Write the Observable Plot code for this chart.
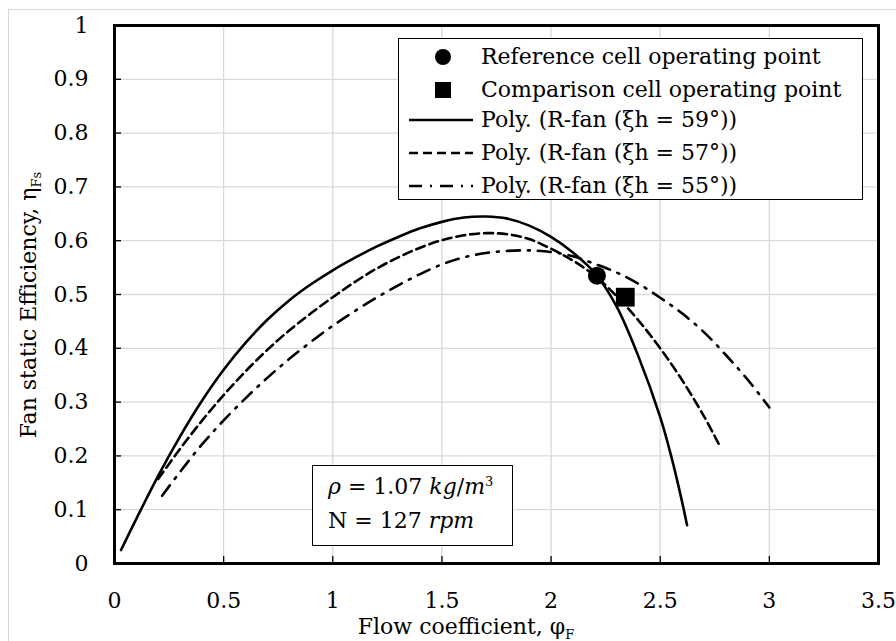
<!DOCTYPE html>
<html>
<head>
<meta charset="utf-8">
<script src="https://cdn.jsdelivr.net/npm/d3@7"></script>
<script src="https://cdn.jsdelivr.net/npm/@observablehq/plot@0.6"></script>
<style>
  body { margin: 0; background: #fff; }
  #wrap { position: relative; width: 896px; height: 641px; overflow: hidden; font-family: "DejaVu Serif", serif; }
  #border { position: absolute; left: 8px; top: 9px; width: 900px; height: 700px; border: 1px solid #d9d9d9; box-sizing: border-box; pointer-events: none; }
  .box { position: absolute; background: #fff; border: 1.6px solid #000; box-sizing: border-box; }
  #legend { left: 398px; top: 38px; width: 465px; height: 162px; }
  .row { position: absolute; left: 0; height: 33px; width: 100%; }
  .row svg { position: absolute; left: 8px; top: 0; }
  .row span { position: absolute; left: 82px; top: 2px; font-size: 22px; line-height: 30px; white-space: nowrap; }
  #note { left: 312px; top: 465px; width: 201px; height: 81px; }
  #note div { position: absolute; left: 15px; font-size: 22px; white-space: nowrap; }
</style>
</head>
<body>
<div id="wrap">
  <div id="chart"></div>
  <div id="border"></div>
</div>
<script>
// ---- data ----
const xTicks = [0, 0.5, 1, 1.5, 2, 2.5, 3, 3.5];
const yTicks = [0, 0.1, 0.2, 0.3, 0.4, 0.5, 0.6, 0.7, 0.8, 0.9, 1];

// Poly. (R-fan (ξh = 59°)) — solid
const phi59 = [0.03, 0.1, 0.2, 0.3, 0.4, 0.5, 0.6, 0.7, 0.8, 0.9, 1.0, 1.1, 1.2, 1.3, 1.4, 1.5, 1.6, 1.7, 1.8, 1.9, 2.0, 2.1, 2.2, 2.3, 2.4, 2.5, 2.55, 2.6, 2.623];
const eta59 = [0.025, 0.083, 0.163, 0.236, 0.302, 0.36, 0.41, 0.453, 0.489, 0.519, 0.545, 0.568, 0.589, 0.607, 0.623, 0.635, 0.643, 0.645, 0.641, 0.628, 0.607, 0.578, 0.54, 0.478, 0.385, 0.272, 0.2, 0.115, 0.071];

// Poly. (R-fan (ξh = 57°)) — dashed
const phi57 = [0.2, 0.3, 0.4, 0.5, 0.6, 0.7, 0.8, 0.9, 1.0, 1.1, 1.2, 1.3, 1.4, 1.5, 1.6, 1.7, 1.8, 1.9, 2.0, 2.1, 2.2, 2.3, 2.4, 2.5, 2.6, 2.7, 2.776];
const eta57 = [0.157, 0.213, 0.265, 0.313, 0.357, 0.397, 0.433, 0.465, 0.495, 0.523, 0.548, 0.569, 0.587, 0.601, 0.61, 0.614, 0.612, 0.603, 0.585, 0.563, 0.535, 0.497, 0.452, 0.4, 0.341, 0.274, 0.216];

// Poly. (R-fan (ξh = 55°)) — dash-dot
const phi55 = [0.218, 0.3, 0.4, 0.5, 0.6, 0.7, 0.8, 0.9, 1.0, 1.1, 1.2, 1.3, 1.4, 1.5, 1.6, 1.7, 1.8, 1.9, 2.0, 2.1, 2.2, 2.3, 2.4, 2.5, 2.6, 2.7, 2.8, 2.9, 3.0];
const eta55 = [0.126, 0.17, 0.221, 0.266, 0.307, 0.345, 0.38, 0.412, 0.442, 0.469, 0.494, 0.517, 0.538, 0.556, 0.569, 0.577, 0.581, 0.582, 0.579, 0.571, 0.557, 0.541, 0.52, 0.494, 0.465, 0.43, 0.388, 0.342, 0.29];

const refPhi = [2.21], refEta = [0.535];
const cmpPhi = [2.34], cmpEta = [0.495];

const seriesNames = ["Poly. (R-fan (ξh = 59°))", "Poly. (R-fan (ξh = 57°))", "Poly. (R-fan (ξh = 55°))"];
const markerNames = ["Reference cell operating point", "Comparison cell operating point"];
const dashes = [null, "9,5", "13,8,2,8"];

// ---- build tables ----
const toRows = (xs, ys) => xs.map((x, i) => ({x, y: ys[i]}));
const curves = [toRows(phi59, eta59), toRows(phi57, eta57), toRows(phi55, eta55)];

const W = 896, H = 641, ML = 114, MR = 18, MT = 25, MB = 78;
const TICK = 7;

const plot = Plot.plot({
  width: W,
  height: H,
  marginLeft: ML,
  marginRight: MR,
  marginTop: MT,
  marginBottom: MB,
  style: {fontFamily: "DejaVu Serif, serif", fontSize: "22px", background: "transparent", color: "#000"},
  x: {domain: [0, 3.5], ticks: xTicks, label: null},
  y: {domain: [0, 1], ticks: yTicks, label: null},
  marks: [
    Plot.ruleX(xTicks, {x: d => d, stroke: "#d9d9d9", strokeWidth: 1.3}),
    Plot.ruleY(yTicks, {y: d => d, stroke: "#d9d9d9", strokeWidth: 1.3}),
    Plot.tickX(xTicks, {x: d => d, stroke: "#000", strokeWidth: 1.3, insetTop: H - MT - MB - TICK}),
    Plot.tickY(yTicks, {y: d => d, stroke: "#000", strokeWidth: 1.3, insetRight: W - ML - MR - TICK}),
    Plot.axisX(xTicks, {tickSize: 0, tickPadding: 29, tickFormat: d => String(d)}),
    Plot.axisY(yTicks, {tickSize: 0, tickPadding: 26, tickFormat: d => String(d)}),
    ...curves.map((c, i) => Plot.line(c, {x: "x", y: "y", curve: "catmull-rom", stroke: "#000", strokeWidth: 2.6, strokeDasharray: dashes[i]})),
    Plot.dot(toRows(refPhi, refEta), {x: "x", y: "y", r: 9, fill: "#000", symbol: "circle"}),
    Plot.dot(toRows(cmpPhi, cmpEta), {x: "x", y: "y", r: 10.6, fill: "#000", symbol: "square"}),
    Plot.frame({stroke: "#000", strokeWidth: 3})
  ]
});

const svg = d3.select(plot);
// axis titles with subscripts
const xl = svg.append("text").attr("x", 466).attr("y", 634).attr("text-anchor", "middle")
  .attr("font-size", 22).attr("fill", "#000");
xl.append("tspan").text("Flow coefficient, φ");
xl.append("tspan").attr("font-size", 13).attr("dy", 5).text("F");

const yl = svg.append("text").attr("transform", "translate(36,305) rotate(-90)").attr("text-anchor", "middle")
  .attr("font-size", 22).attr("fill", "#000");
yl.append("tspan").text("Fan static Efficiency, η");
yl.append("tspan").attr("font-size", 13).attr("dy", 5).text("Fs");

document.getElementById("chart").appendChild(plot);

// ---- legend ----
const wrap = document.getElementById("wrap");
const legend = document.createElement("div");
legend.className = "box"; legend.id = "legend";
const rowTops = [1, 34, 64, 97, 130];
const NS = "http://www.w3.org/2000/svg";
function addRow(i, label, draw) {
  const row = document.createElement("div");
  row.className = "row"; row.style.top = rowTops[i] + "px";
  const s = document.createElementNS(NS, "svg");
  s.setAttribute("width", 70); s.setAttribute("height", 33);
  draw(s);
  row.appendChild(s);
  const t = document.createElement("span"); t.textContent = label;
  row.appendChild(t);
  legend.appendChild(row);
}
addRow(0, markerNames[0], s => { const c = document.createElementNS(NS, "circle"); c.setAttribute("cx", 36); c.setAttribute("cy", 17); c.setAttribute("r", 8); s.appendChild(c); });
addRow(1, markerNames[1], s => { const r = document.createElementNS(NS, "rect"); r.setAttribute("x", 28); r.setAttribute("y", 9); r.setAttribute("width", 16); r.setAttribute("height", 16); s.appendChild(r); });
seriesNames.forEach((n, i) => addRow(i + 2, n, s => {
  const l = document.createElementNS(NS, "line");
  l.setAttribute("x1", 2); l.setAttribute("x2", 66); l.setAttribute("y1", 17); l.setAttribute("y2", 17);
  l.setAttribute("stroke", "#000"); l.setAttribute("stroke-width", 2.6);
  if (dashes[i]) l.setAttribute("stroke-dasharray", dashes[i]);
  s.appendChild(l);
}));
wrap.appendChild(legend);

// ---- note box ----
const note = document.createElement("div");
note.className = "box"; note.id = "note";
note.innerHTML = '<div style="top:8px"><i>ρ</i> = 1.07 <i>kg</i>/<i>m</i><sup style="font-size:13px">3</sup></div>' +
                 '<div style="top:42px">N = 127 <i>rpm</i></div>';
wrap.appendChild(note);
</script>
</body>
</html>
